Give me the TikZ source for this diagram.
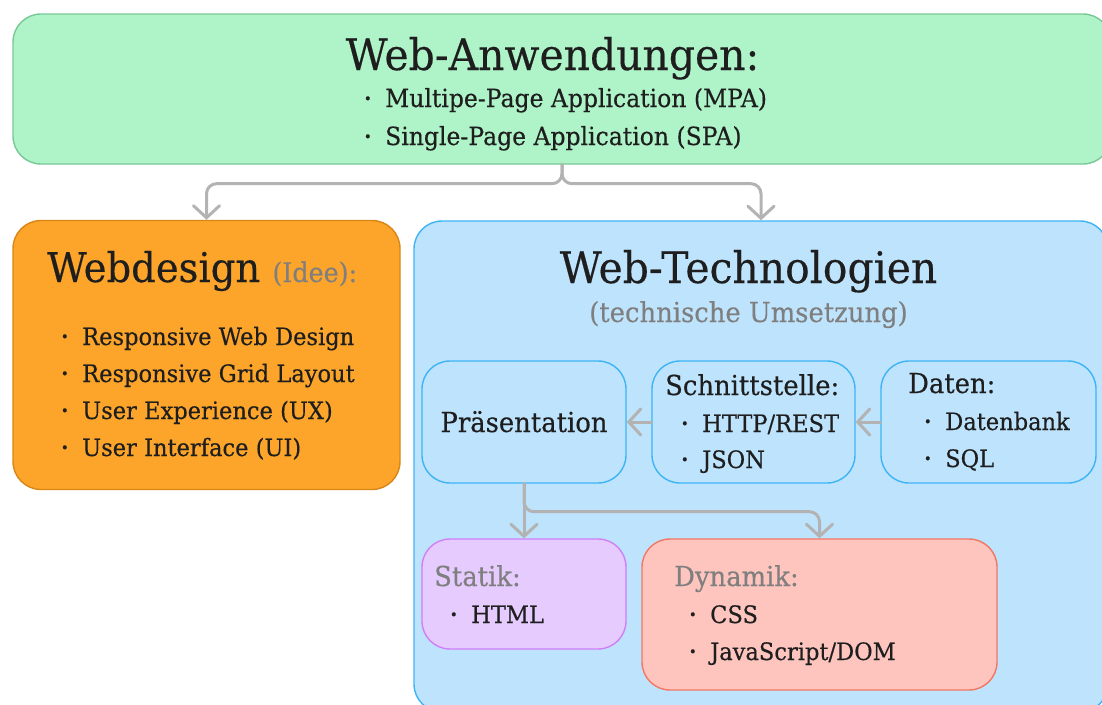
\documentclass[tikz,border=0pt]{standalone}
\usepackage{fontspec}
\setmainfont{DejaVu Serif}[FakeStretch=0.94,FakeBold=0.35]
\usetikzlibrary{arrows.meta}
\definecolor{greenF}{HTML}{AFF4C8}
\definecolor{greenD}{HTML}{78C896}
\definecolor{orangeF}{HTML}{FCA52A}
\definecolor{orangeD}{HTML}{D98616}
\definecolor{blueF}{HTML}{BEE3FD}
\definecolor{blueD}{HTML}{3DB4F5}
\definecolor{violetF}{HTML}{E5CBFE}
\definecolor{violetD}{HTML}{D17FF7}
\definecolor{redF}{HTML}{FEC5BF}
\definecolor{redD}{HTML}{F37762}
\definecolor{connC}{HTML}{B3B3B3}
\definecolor{txt}{HTML}{1E1E1E}
\definecolor{txtgray}{HTML}{7F7F7F}
\newcommand\bul{\llap{\raisebox{3.5pt}{\fontsize{14}{14}\selectfont •}\hspace{13.5pt}}}
\newcommand\fbig{\fontsize{43.5}{48}\selectfont}
\newcommand\fmid{\fontsize{27.5}{32}\selectfont}
\newcommand\fitem{\fontsize{24}{29}\selectfont}
\newcommand\ftop{\fontsize{25}{29}\selectfont}
\begin{document}
\begin{tikzpicture}[x=1pt,y=-1pt,
  box/.style={draw, line width=1.4pt, rounded corners=28pt, inner sep=0pt},
  conn/.style={draw=connC, line width=3pt, line cap=round, line join=round,
    rounded corners=10pt, -{Straight Barb[length=12pt,width=26pt,line cap=round]}},
  ttl/.style={inner sep=0pt, anchor=base, text=txt, font=\fbig},
  sub/.style={inner sep=0pt, anchor=base west, text=txt, font=\fmid},
  item/.style={inner sep=0pt, anchor=base west, text=txt, font=\fitem},
  grey/.style={text=txtgray}]
\useasboundingbox (0,0) rectangle (1102,704);
% boxes
\node[box, fill=greenF, draw=greenD, minimum width=1098pt, minimum height=150pt] (web) at (562,89) {};
\node[box, fill=orangeF, draw=orangeD, minimum width=387pt, minimum height=269pt] (od) at (206.5,355) {};
\node[box, fill=blueF, draw=blueD, minimum width=694pt, minimum height=491pt] (tech) at (761,466.5) {};
\node[box, fill=blueF, draw=blueD, minimum width=204pt, minimum height=122pt] (pres) at (524,422) {};
\node[box, fill=blueF, draw=blueD, minimum width=203pt, minimum height=122pt] (schn) at (753.5,422) {};
\node[box, fill=blueF, draw=blueD, minimum width=215pt, minimum height=122pt] (dat) at (988.5,422) {};
\node[box, fill=violetF, draw=violetD, minimum width=204pt, minimum height=110pt] (stat) at (524,594) {};
\node[box, fill=redF, draw=redD, minimum width=355pt, minimum height=151pt] (dyn) at (819.5,614.5) {};
% connectors
\draw[conn] (web.south) -- ++(0,19) -| (od.north);
\draw[conn] (web.south) -- ++(0,19) -| (tech.north);
\draw[conn] (pres.south) -- (stat.north);
\draw[conn] (pres.south) -- ++(0,28) -| (dyn.north);
\draw[conn] (schn.west) -- (pres.east);
\draw[conn] (dat.west) -- (schn.east);
% texts: top
\node[ttl] (webT) at (552.5,70) {Web-Anwendungen:};
\node[item, font=\ftop] (webA) at (385,107) {\bul Multipe-Page Application (MPA)};
\node[item, font=\ftop] (webB) at (385,145) {\bul Single-Page Application (SPA)};
% orange
\node[inner sep=0pt, anchor=base west, text=txt, font=\fontsize{41}{46}\selectfont] (odT) at (47,282) {Webdesign {\fontsize{27}{32}\selectfont\color{txtgray}(Idee):}};
\node[item] (odA) at (82,345) {\bul Responsive Web Design};
\node[item] (odB) at (82,382) {\bul Responsive Grid Layout};
\node[item] (odC) at (82,419) {\bul User Experience (UX)};
\node[item] (odD) at (82,456) {\bul User Interface (UI)};
% blue
\node[ttl] (techT) at (748.5,283) {Web-Technologien};
\node[inner sep=0pt, anchor=base, font=\fmid, grey] (techS) at (748.5,322) {(technische Umsetzung)};
\node[inner sep=0pt, anchor=base, font=\fmid, text=txt] (presT) at (524,432) {Präsentation};
\node[sub] (schnT) at (665,395) {Schnittstelle:};
\node[item] (schnA) at (702,432) {\bul HTTP/REST};
\node[item] (schnB) at (702,468) {\bul JSON};
\node[sub] (datT) at (908,393) {Daten:};
\node[item] (datA) at (945,430) {\bul Datenbank};
\node[item] (datB) at (945,467) {\bul SQL};
\node[sub, grey] (statT) at (434,586) {Statik:};
\node[item] (statA) at (471,623) {\bul HTML};
\node[sub, grey] (dynT) at (674,586) {Dynamik:};
\node[item] (dynA) at (710,623) {\bul CSS};
\node[item] (dynB) at (710,660) {\bul JavaScript/DOM};
\end{tikzpicture}
\end{document}
